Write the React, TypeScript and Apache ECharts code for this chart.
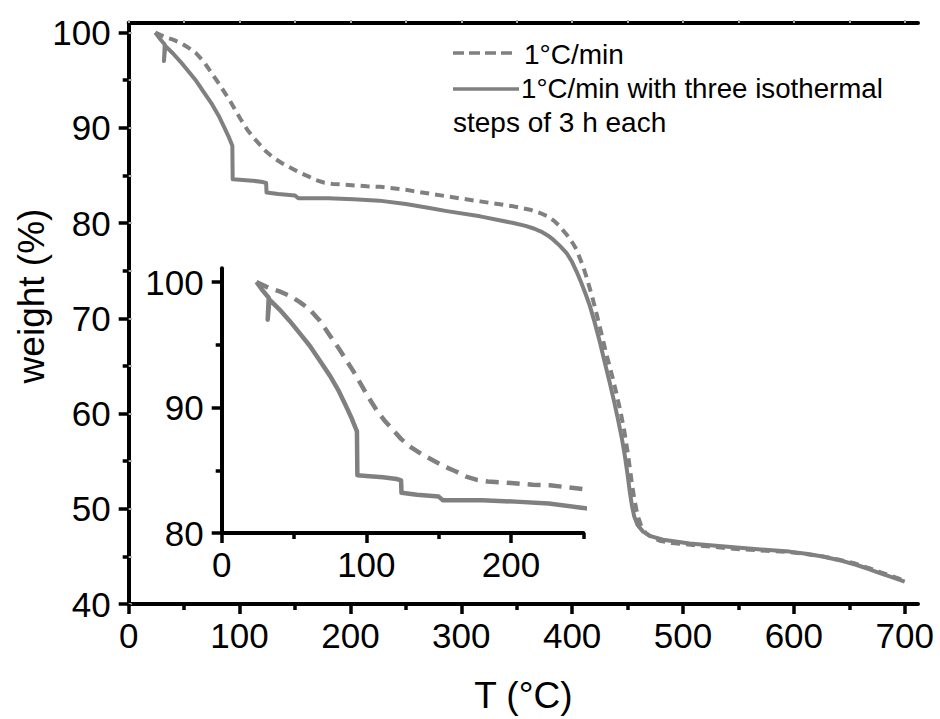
import React, { useEffect, useRef } from "react";
import * as echarts from "echarts";

// 1°C/min (dashed)
const dashedT = [24, 33, 40, 47, 54, 61, 68, 75, 81, 86, 91, 95.5, 101, 107, 113, 118.5, 124, 130, 138, 146, 154, 162, 169, 176, 184, 192, 215, 227, 250, 257, 287, 317, 347, 362, 371, 378, 384, 389, 392, 395, 398, 401, 404, 407, 410, 413, 418, 422, 426, 431, 436, 440, 444, 447, 450, 452, 454, 456, 458, 460, 462, 466, 472, 480, 490, 509, 551, 596, 611, 626, 641, 656, 667, 677, 689, 700];
const dashedW = [100, 99.5, 99.25, 98.9, 98.4, 97.8, 96.9, 95.7, 94.7, 93.8, 92.9, 92.0, 90.9, 89.8, 88.9, 88.2, 87.5, 86.9, 86.3, 85.8, 85.3, 84.9, 84.5, 84.25, 84.1, 84.05, 83.85, 83.8, 83.5, 83.35, 82.8, 82.27, 81.75, 81.4, 81.05, 80.7, 80.2, 79.64, 79.2, 78.8, 78.3, 77.8, 77.2, 76.3, 75.4, 74.3, 72.3, 70.5, 68.6, 66.2, 64.0, 62.1, 60.0, 58.2, 56.0, 54.3, 52.6, 51.1, 49.9, 49.0, 48.3, 47.5, 47.0, 46.6, 46.4, 46.2, 45.75, 45.45, 45.25, 45.0, 44.65, 44.22, 43.8, 43.38, 42.9, 42.45];

// 1°C/min with three isothermal steps of 3 h each (solid)
const solidT = [24, 28.5, 32.5, 31.8, 33, 40, 47, 54, 61, 68, 75, 81, 86, 90, 93.5, 93.8, 100, 111.5, 121, 124, 124.3, 135, 150, 153, 180, 203, 226, 250, 270, 287, 317, 347, 358, 366, 372, 378, 383, 389, 395, 400, 404, 408, 412, 416, 420, 425, 430, 434, 438, 441.5, 445, 447.5, 450, 452, 454, 456, 459, 464, 470, 482, 506, 551, 596, 611, 626, 641, 656, 667, 677, 689, 700];
const solidW = [100, 99.3, 98.75, 97.0, 98.6, 97.8, 96.9, 95.9, 94.9, 93.7, 92.5, 91.3, 90.1, 89.1, 88.1, 84.6, 84.55, 84.45, 84.3, 84.2, 83.2, 83.05, 82.9, 82.6, 82.6, 82.5, 82.35, 82.0, 81.6, 81.25, 80.7, 80.0, 79.7, 79.4, 79.1, 78.7, 78.25, 77.6, 76.85, 75.9, 74.9, 73.8, 72.6, 71.3, 69.7, 67.5, 65.1, 63.2, 61.2, 59.3, 57.3, 55.6, 53.6, 51.8, 50.3, 49.2, 48.3, 47.6, 47.15, 46.75, 46.35, 45.9, 45.5, 45.27, 44.98, 44.6, 44.12, 43.7, 43.28, 42.8, 42.35];

const mainXTicks = [0, 100, 200, 300, 400, 500, 600, 700];
const mainXMinor = [50, 150, 250, 350, 450, 550, 650];
const mainYTicks = [40, 50, 60, 70, 80, 90, 100];
const mainYMinor = [45, 55, 65, 75, 85, 95];
const mainXMirror = [0, 50, 100, 150, 200, 250, 300, 350, 400, 450, 500, 550, 600, 650, 700];
const mainYMirror = [40, 45, 50, 55, 60, 65, 70, 75, 80, 85, 90, 95, 100];
const insetXTicks = [0, 100, 200];
const insetXMinor = [50, 150, 250];
const insetYTicks = [80, 90, 100];
const insetYMinor = [85, 95];

const xTitle = "T (°C)";
const yTitle = "weight (%)";
const legendDashed = "1°C/min";
const legendSolid1 = "1°C/min with three isothermal";
const legendSolid2 = "steps of 3 h each";

const FONT = "'Liberation Sans', Arial, Helvetica, sans-serif";
const GRAY = "#808080";

function pairs(t: number[], w: number[]) {
  return t.map((v, i) => [v, w[i]]);
}

export default function App() {
  const ref = useRef<HTMLDivElement>(null);
  useEffect(() => {
    if (!ref.current) return;
    const chart = echarts.init(ref.current, undefined, { renderer: "svg" });
    const axisLine = { show: true, lineStyle: { color: "#000", width: 4 } };
    const noLabel = { show: false };
    const lbl = (vals: number[], margin: number) => ({
      show: true,
      customValues: vals,
      fontSize: 35,
      color: "#000",
      fontFamily: FONT,
      margin,
    });
    const tick = (vals: number[], len: number) => ({
      show: true,
      customValues: vals,
      length: len,
      inside: false,
      lineStyle: { color: "#000", width: 3.5 },
    });
    const base = { type: "value" as const, splitLine: { show: false } };

    const xAxis: any[] = [
      { ...base, gridIndex: 0, position: "bottom", min: 0, max: 712, axisLine, axisTick: tick(mainXTicks, 10), axisLabel: lbl(mainXTicks, 14),
        name: xTitle, nameLocation: "middle", nameGap: 73, nameTextStyle: { fontSize: 37, color: "#000", fontFamily: FONT } },
      { ...base, gridIndex: 0, position: "bottom", min: 0, max: 712, axisLine: { show: false }, axisTick: tick(mainXMinor, 6), axisLabel: noLabel },
      { ...base, gridIndex: 0, position: "top", min: 0, max: 712, axisLine, axisTick: { ...tick(mainXMirror, 3), lineStyle: { color: "#aaa", width: 2 } }, axisLabel: noLabel },
      { ...base, gridIndex: 1, position: "bottom", min: 0, max: 250, axisLine, axisTick: tick(insetXTicks, 10), axisLabel: lbl(insetXTicks, 14) },
      { ...base, gridIndex: 1, position: "bottom", min: 0, max: 250, axisLine: { show: false }, axisTick: tick(insetXMinor, 6), axisLabel: noLabel },
    ];
    const yAxis: any[] = [
      { ...base, gridIndex: 0, position: "left", min: 40, max: 101, axisLine, axisTick: tick(mainYTicks, 10), axisLabel: lbl(mainYTicks, 18) },
      { ...base, gridIndex: 0, position: "left", min: 40, max: 101, axisLine: { show: false }, axisTick: tick(mainYMinor, 6), axisLabel: noLabel },
      { ...base, gridIndex: 0, position: "right", min: 40, max: 101, axisLine, axisTick: { ...tick(mainYMirror, 3), lineStyle: { color: "#aaa", width: 2 } }, axisLabel: noLabel },
      { ...base, gridIndex: 1, position: "left", min: 80, max: 101.1, axisLine, axisTick: tick(insetYTicks, 10), axisLabel: lbl(insetYTicks, 18) },
      { ...base, gridIndex: 1, position: "left", min: 80, max: 101.1, axisLine: { show: false }, axisTick: tick(insetYMinor, 6), axisLabel: noLabel },
    ];

    const mk = (data: number[][], xi: number, yi: number, dashed: any, width: number) => ({
      type: "line",
      xAxisIndex: xi,
      yAxisIndex: yi,
      data,
      showSymbol: false,
      symbol: "none",
      clip: true,
      lineStyle: { color: GRAY, width, type: dashed, cap: "butt", join: "round" },
      silent: true,
    });

    const txt = (text: string, x: number, y: number, size: number) => ({
      type: "text",
      x,
      y,
      style: { text, fontSize: size, fontFamily: FONT, fill: "#000", verticalAlign: "middle", align: "left" },
    });

    chart.setOption({
      animation: false,
      backgroundColor: "#fff",
      grid: [
        { left: 128.7, top: 23, width: 789.3, height: 581 },
        { left: 221.7, top: 268.2, width: 361.6, height: 264.8 },
      ],
      xAxis,
      yAxis,
      series: [
        mk(pairs(dashedT, dashedW), 0, 0, [9, 6], 4),
        mk(pairs(solidT, solidW), 0, 0, "solid", 4),
        mk(pairs(dashedT, dashedW), 3, 3, [13, 8], 4.5),
        mk(pairs(solidT, solidW), 3, 3, "solid", 4.5),
      ],
      graphic: [
        { type: "line", shape: { x1: 453, y1: 53, x2: 513, y2: 53 }, style: { stroke: GRAY, lineWidth: 3.5, lineDash: [11, 5] } },
        txt(legendDashed, 524, 54, 28),
        { type: "line", shape: { x1: 453, y1: 89, x2: 519, y2: 89 }, style: { stroke: GRAY, lineWidth: 3.5 } },
        txt(legendSolid1, 521, 88, 27.7),
        txt(legendSolid2, 453, 122, 28),
        { type: "text", x: 31, y: 296, rotation: Math.PI / 2, style: { text: yTitle, fontSize: 37, fontFamily: FONT, fill: "#000", align: "center", verticalAlign: "middle" } },
      ],
    });
    return () => chart.dispose();
  }, []);
  return <div ref={ref} style={{ position: "fixed", left: 0, top: 0, width: 940, height: 719 }} />;
}
